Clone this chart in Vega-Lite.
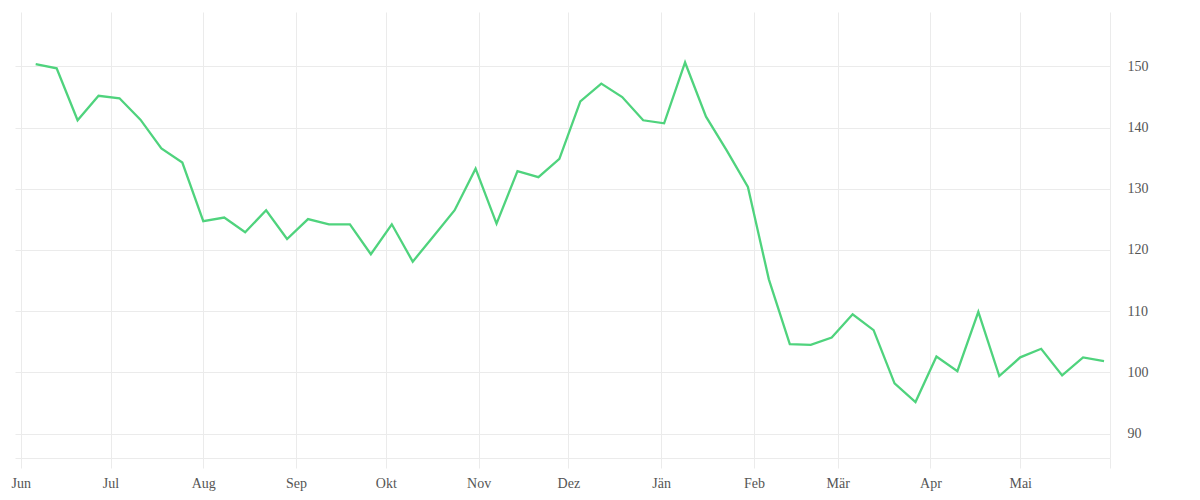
{
  "$schema": "https://vega.github.io/schema/vega-lite/v6.json",
  "width": 1095,
  "height": 446,
  "autosize": {"type": "none"},
  "padding": {"left": 15, "top": 12, "right": 90, "bottom": 42},
  "background": "white",
  "config": {"view": {"stroke": null}},
  "data": {
    "values": [
      {"date": "2018-06-06", "value": 150.4},
      {"date": "2018-06-13", "value": 149.7},
      {"date": "2018-06-20", "value": 141.2},
      {"date": "2018-06-27", "value": 145.2},
      {"date": "2018-07-04", "value": 144.8},
      {"date": "2018-07-11", "value": 141.3},
      {"date": "2018-07-18", "value": 136.6},
      {"date": "2018-07-25", "value": 134.3},
      {"date": "2018-08-01", "value": 124.7},
      {"date": "2018-08-08", "value": 125.3},
      {"date": "2018-08-15", "value": 122.9},
      {"date": "2018-08-22", "value": 126.5},
      {"date": "2018-08-29", "value": 121.8},
      {"date": "2018-09-05", "value": 125.05},
      {"date": "2018-09-12", "value": 124.2},
      {"date": "2018-09-19", "value": 124.2},
      {"date": "2018-09-26", "value": 119.3},
      {"date": "2018-10-03", "value": 124.2},
      {"date": "2018-10-10", "value": 118.1},
      {"date": "2018-10-17", "value": 122.3},
      {"date": "2018-10-24", "value": 126.5},
      {"date": "2018-10-31", "value": 133.3},
      {"date": "2018-11-07", "value": 124.3},
      {"date": "2018-11-14", "value": 132.9},
      {"date": "2018-11-21", "value": 131.9},
      {"date": "2018-11-28", "value": 134.9},
      {"date": "2018-12-05", "value": 144.3},
      {"date": "2018-12-12", "value": 147.2},
      {"date": "2018-12-19", "value": 145.0},
      {"date": "2018-12-26", "value": 141.2},
      {"date": "2019-01-02", "value": 140.7},
      {"date": "2019-01-09", "value": 150.65},
      {"date": "2019-01-16", "value": 141.8},
      {"date": "2019-01-23", "value": 136.2},
      {"date": "2019-01-30", "value": 130.3},
      {"date": "2019-02-06", "value": 115.2},
      {"date": "2019-02-13", "value": 104.6},
      {"date": "2019-02-20", "value": 104.5},
      {"date": "2019-02-27", "value": 105.7},
      {"date": "2019-03-06", "value": 109.5},
      {"date": "2019-03-13", "value": 106.9},
      {"date": "2019-03-20", "value": 98.2},
      {"date": "2019-03-27", "value": 95.15},
      {"date": "2019-04-03", "value": 102.6},
      {"date": "2019-04-10", "value": 100.2},
      {"date": "2019-04-17", "value": 109.9},
      {"date": "2019-04-24", "value": 99.4},
      {"date": "2019-05-01", "value": 102.45},
      {"date": "2019-05-08", "value": 103.85},
      {"date": "2019-05-15", "value": 99.5},
      {"date": "2019-05-22", "value": 102.45},
      {"date": "2019-05-29", "value": 101.85}
    ]
  },
  "mark": {"type": "line", "color": "#4fd37d", "strokeWidth": 2.3, "strokeJoin": "miter", "clip": true},
  "encoding": {
    "x": {
      "field": "date",
      "type": "temporal",
      "scale": {
        "type": "utc",
        "domain": [
          {"year": 2018, "month": 5, "date": 30, "hours": 2, "utc": true},
          {"year": 2019, "month": 5, "date": 31, "utc": true}
        ]
      },
      "axis": {
        "title": null,
        "orient": "bottom",
        "values": [
          {"year": 2018, "month": 6, "date": 1, "utc": true},
          {"year": 2018, "month": 7, "date": 1, "utc": true},
          {"year": 2018, "month": 8, "date": 1, "utc": true},
          {"year": 2018, "month": 9, "date": 1, "utc": true},
          {"year": 2018, "month": 10, "date": 1, "utc": true},
          {"year": 2018, "month": 11, "date": 1, "utc": true},
          {"year": 2018, "month": 12, "date": 1, "utc": true},
          {"year": 2019, "month": 1, "date": 1, "utc": true},
          {"year": 2019, "month": 2, "date": 1, "utc": true},
          {"year": 2019, "month": 3, "date": 1, "utc": true},
          {"year": 2019, "month": 4, "date": 1, "utc": true},
          {"year": 2019, "month": 5, "date": 1, "utc": true},
          {"year": 2019, "month": 5, "date": 31, "utc": true}
        ],
        "labelExpr": "utcyear(datum.value) == 2019 && utcmonth(datum.value) == 4 && utcdate(datum.value) == 31 ? '' : ['Jän','Feb','Mär','Apr','Mai','Jun','Jul','Aug','Sep','Okt','Nov','Dez'][utcmonth(datum.value)]",
        "grid": true,
        "gridColor": "#ebebeb",
        "gridWidth": 1,
        "domain": true,
        "domainColor": "#ebebeb",
        "domainWidth": 1,
        "ticks": true,
        "tickColor": "#ebebeb",
        "tickSize": 10,
        "labelFont": "Liberation Serif",
        "labelFontSize": 14,
        "labelColor": "#555555",
        "labelPadding": 8,
        "labelAlign": "center",
        "labelOverlap": false,
        "labelFlush": false
      }
    },
    "y": {
      "field": "value",
      "type": "quantitative",
      "scale": {"domain": [86, 158.9], "nice": false, "zero": false},
      "axis": {
        "title": null,
        "orient": "right",
        "values": [90, 100, 110, 120, 130, 140, 150],
        "grid": true,
        "gridColor": "#ebebeb",
        "gridWidth": 1,
        "domain": false,
        "ticks": false,
        "labelFont": "Liberation Serif",
        "labelFontSize": 14,
        "labelColor": "#555555",
        "labelPadding": 17,
        "labelAlign": "left"
      }
    }
  }
}
